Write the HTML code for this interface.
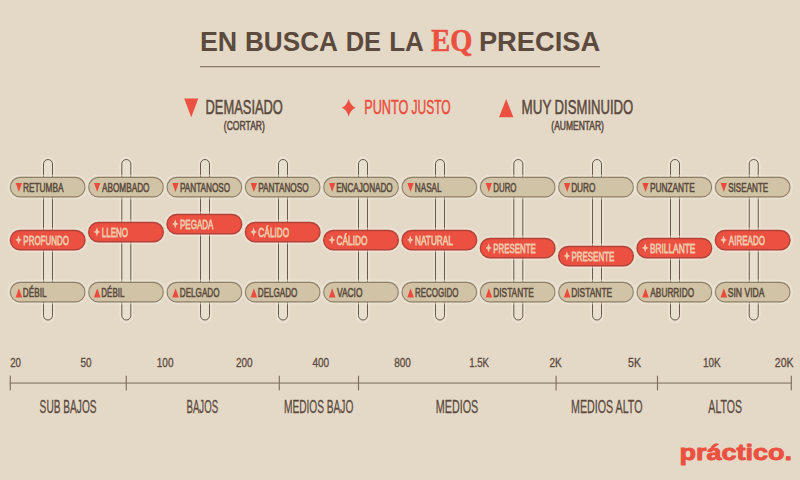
<!DOCTYPE html><html><head><meta charset="utf-8"><style>html,body{margin:0;padding:0;background:#E4D9C7;width:800px;height:480px;overflow:hidden}svg{display:block}</style></head><body>
<svg width="800" height="480" viewBox="0 0 800 480">
<rect width="800" height="480" fill="#E4D9C7"/>
<text x="199.96" y="50.80" font-family="Liberation Sans" font-weight="bold" font-size="28.00" fill="#5B4A3D" textLength="37.25" lengthAdjust="spacingAndGlyphs">EN</text>
<text x="244.98" y="50.80" font-family="Liberation Sans" font-weight="bold" font-size="28.00" fill="#5B4A3D" textLength="92.96" lengthAdjust="spacingAndGlyphs">BUSCA</text>
<text x="345.70" y="50.80" font-family="Liberation Sans" font-weight="bold" font-size="28.00" fill="#5B4A3D" textLength="35.42" lengthAdjust="spacingAndGlyphs">DE</text>
<text x="389.17" y="50.80" font-family="Liberation Sans" font-weight="bold" font-size="28.00" fill="#5B4A3D" textLength="34.68" lengthAdjust="spacingAndGlyphs">LA</text>
<text x="478.90" y="50.80" font-family="Liberation Sans" font-weight="bold" font-size="28.00" fill="#5B4A3D" textLength="121.42" lengthAdjust="spacingAndGlyphs">PRECISA</text>
<text x="431.35" y="50.90" font-family="Liberation Serif" font-weight="bold" font-size="30.50" fill="#EB5040" textLength="41.07" lengthAdjust="spacingAndGlyphs" stroke="#EB5040" stroke-width="0.6">EQ</text>
<rect x="200" y="66" width="400" height="1.3" fill="#8E806C"/>
<text x="205.55" y="114.00" font-family="Liberation Sans" font-weight="normal" font-size="20.90" fill="#5B4A3D" textLength="77.35" lengthAdjust="spacingAndGlyphs" stroke="#5B4A3D" stroke-width="0.55">DEMASIADO</text>
<text x="223.85" y="129.60" font-family="Liberation Sans" font-weight="normal" font-size="12.00" fill="#5B4A3D" textLength="41.02" lengthAdjust="spacingAndGlyphs" stroke="#5B4A3D" stroke-width="0.55">(CORTAR)</text>
<text x="364.17" y="113.90" font-family="Liberation Sans" font-weight="normal" font-size="20.70" fill="#EB5040" textLength="44.35" lengthAdjust="spacingAndGlyphs" stroke="#EB5040" stroke-width="0.55">PUNTO</text>
<text x="411.54" y="113.90" font-family="Liberation Sans" font-weight="normal" font-size="20.70" fill="#EB5040" textLength="39.16" lengthAdjust="spacingAndGlyphs" stroke="#EB5040" stroke-width="0.55">JUSTO</text>
<text x="521.54" y="114.00" font-family="Liberation Sans" font-weight="normal" font-size="20.90" fill="#5B4A3D" textLength="29.89" lengthAdjust="spacingAndGlyphs" stroke="#5B4A3D" stroke-width="0.55">MUY</text>
<text x="554.59" y="114.00" font-family="Liberation Sans" font-weight="normal" font-size="20.90" fill="#5B4A3D" textLength="78.73" lengthAdjust="spacingAndGlyphs" stroke="#5B4A3D" stroke-width="0.55">DISMINUIDO</text>
<text x="551.35" y="129.60" font-family="Liberation Sans" font-weight="normal" font-size="12.00" fill="#5B4A3D" textLength="52.58" lengthAdjust="spacingAndGlyphs" stroke="#5B4A3D" stroke-width="0.55">(AUMENTAR)</text>
<path d="M184.2 98.6 L198.3 98.6 L191.25 117.3 Z" fill="#EB5040"/>
<path d="M499 117.3 L513.4 117.3 L506.2 99 Z" fill="#EB5040"/>
<path d="M348.70 98.75 Q350.38 105.59 355.70 107.75 Q350.38 109.91 348.70 116.75 Q347.02 109.91 341.70 107.75 Q347.02 105.59 348.70 98.75 Z" fill="#EB5040"/>
<rect x="42.00" y="157.5" width="12" height="165" rx="6" fill="none" stroke="#EFE8DB" stroke-width="1.5" opacity="0.7"/>
<rect x="43.50" y="159.5" width="9" height="160.5" rx="4.5" fill="#E8DFCF" stroke="#6A5A4B" stroke-width="1"/>
<rect x="8.20" y="175.50" width="79" height="23" rx="11.5" fill="none" stroke="#EFE8DB" stroke-width="1.5" opacity="0.55"/>
<rect x="10.40" y="177.40" width="74.6" height="19.5" rx="9.75" fill="#D1C4A6" stroke="#8F7F69" stroke-width="1.1"/>
<path d="M15.70 183.10 L22.00 183.10 L18.85 192.10 Z" fill="#EC4A3C"/>
<text x="22.88" y="191.90" font-family="Liberation Sans" font-weight="normal" font-size="13.60" fill="#5B4A3D" textLength="40.74" lengthAdjust="spacingAndGlyphs" stroke="#5B4A3D" stroke-width="0.6">RETUMBA</text>
<rect x="8.20" y="228.50" width="79" height="23" rx="11.5" fill="none" stroke="#EFE8DB" stroke-width="1.5" opacity="0.55"/>
<rect x="10.40" y="230.50" width="74.6" height="19.3" rx="9.65" fill="#EB5040" stroke="#B5423A" stroke-width="1.4"/>
<path d="M18.60 235.30 L19.80 238.70 L22.00 239.90 L19.80 241.10 L18.60 244.50 L17.40 241.10 L15.20 239.90 L17.40 238.70 Z" fill="#F0C7A9"/>
<text x="23.33" y="244.90" font-family="Liberation Sans" font-weight="normal" font-size="13.60" fill="#F0C7A9" textLength="45.66" lengthAdjust="spacingAndGlyphs" stroke="#F0C7A9" stroke-width="0.8">PROFUNDO</text>
<rect x="8.20" y="280.50" width="79" height="23" rx="11.5" fill="none" stroke="#EFE8DB" stroke-width="1.5" opacity="0.55"/>
<rect x="10.40" y="282.40" width="74.6" height="19.5" rx="9.75" fill="#D1C4A6" stroke="#8F7F69" stroke-width="1.1"/>
<path d="M15.60 297.40 L22.20 297.40 L18.90 288.20 Z" fill="#EC4A3C"/>
<text x="22.84" y="297.20" font-family="Liberation Sans" font-weight="normal" font-size="13.60" fill="#5B4A3D" textLength="23.84" lengthAdjust="spacingAndGlyphs" stroke="#5B4A3D" stroke-width="0.6">DÉBIL</text>
<rect x="120.30" y="157.5" width="12" height="165" rx="6" fill="none" stroke="#EFE8DB" stroke-width="1.5" opacity="0.7"/>
<rect x="121.80" y="159.5" width="9" height="160.5" rx="4.5" fill="#E8DFCF" stroke="#6A5A4B" stroke-width="1"/>
<rect x="86.53" y="175.50" width="79" height="23" rx="11.5" fill="none" stroke="#EFE8DB" stroke-width="1.5" opacity="0.55"/>
<rect x="88.73" y="177.40" width="74.6" height="19.5" rx="9.75" fill="#D1C4A6" stroke="#8F7F69" stroke-width="1.1"/>
<path d="M94.03 183.10 L100.33 183.10 L97.18 192.10 Z" fill="#EC4A3C"/>
<text x="101.94" y="191.90" font-family="Liberation Sans" font-weight="normal" font-size="13.60" fill="#5B4A3D" textLength="47.58" lengthAdjust="spacingAndGlyphs" stroke="#5B4A3D" stroke-width="0.6">ABOMBADO</text>
<rect x="86.53" y="220.50" width="79" height="23" rx="11.5" fill="none" stroke="#EFE8DB" stroke-width="1.5" opacity="0.55"/>
<rect x="88.73" y="222.50" width="74.6" height="19.3" rx="9.65" fill="#EB5040" stroke="#B5423A" stroke-width="1.4"/>
<path d="M96.93 227.30 L98.13 230.70 L100.33 231.90 L98.13 233.10 L96.93 236.50 L95.73 233.10 L93.53 231.90 L95.73 230.70 Z" fill="#F0C7A9"/>
<text x="101.70" y="236.90" font-family="Liberation Sans" font-weight="normal" font-size="13.60" fill="#F0C7A9" textLength="26.34" lengthAdjust="spacingAndGlyphs" stroke="#F0C7A9" stroke-width="0.8">LLENO</text>
<rect x="86.53" y="280.50" width="79" height="23" rx="11.5" fill="none" stroke="#EFE8DB" stroke-width="1.5" opacity="0.55"/>
<rect x="88.73" y="282.40" width="74.6" height="19.5" rx="9.75" fill="#D1C4A6" stroke="#8F7F69" stroke-width="1.1"/>
<path d="M93.93 297.40 L100.53 297.40 L97.23 288.20 Z" fill="#EC4A3C"/>
<text x="101.30" y="297.20" font-family="Liberation Sans" font-weight="normal" font-size="13.60" fill="#5B4A3D" textLength="23.06" lengthAdjust="spacingAndGlyphs" stroke="#5B4A3D" stroke-width="0.6">DÉBIL</text>
<rect x="199.00" y="157.5" width="12" height="165" rx="6" fill="none" stroke="#EFE8DB" stroke-width="1.5" opacity="0.7"/>
<rect x="200.50" y="159.5" width="9" height="160.5" rx="4.5" fill="#E8DFCF" stroke="#6A5A4B" stroke-width="1"/>
<rect x="164.86" y="175.50" width="79" height="23" rx="11.5" fill="none" stroke="#EFE8DB" stroke-width="1.5" opacity="0.55"/>
<rect x="167.06" y="177.40" width="74.6" height="19.5" rx="9.75" fill="#D1C4A6" stroke="#8F7F69" stroke-width="1.1"/>
<path d="M172.36 183.10 L178.66 183.10 L175.51 192.10 Z" fill="#EC4A3C"/>
<text x="179.93" y="191.90" font-family="Liberation Sans" font-weight="normal" font-size="13.60" fill="#5B4A3D" textLength="50.30" lengthAdjust="spacingAndGlyphs" stroke="#5B4A3D" stroke-width="0.6">PANTANOSO</text>
<rect x="164.86" y="212.50" width="79" height="23" rx="11.5" fill="none" stroke="#EFE8DB" stroke-width="1.5" opacity="0.55"/>
<rect x="167.06" y="214.50" width="74.6" height="19.3" rx="9.65" fill="#EB5040" stroke="#B5423A" stroke-width="1.4"/>
<path d="M175.26 219.30 L176.46 222.70 L178.66 223.90 L176.46 225.10 L175.26 228.50 L174.06 225.10 L171.86 223.90 L174.06 222.70 Z" fill="#F0C7A9"/>
<text x="180.02" y="228.90" font-family="Liberation Sans" font-weight="normal" font-size="13.60" fill="#F0C7A9" textLength="33.30" lengthAdjust="spacingAndGlyphs" stroke="#F0C7A9" stroke-width="0.8">PEGADA</text>
<rect x="164.86" y="280.50" width="79" height="23" rx="11.5" fill="none" stroke="#EFE8DB" stroke-width="1.5" opacity="0.55"/>
<rect x="167.06" y="282.40" width="74.6" height="19.5" rx="9.75" fill="#D1C4A6" stroke="#8F7F69" stroke-width="1.1"/>
<path d="M172.26 297.40 L178.86 297.40 L175.56 288.20 Z" fill="#EC4A3C"/>
<text x="179.79" y="297.20" font-family="Liberation Sans" font-weight="normal" font-size="13.60" fill="#5B4A3D" textLength="39.74" lengthAdjust="spacingAndGlyphs" stroke="#5B4A3D" stroke-width="0.6">DELGADO</text>
<rect x="277.00" y="157.5" width="12" height="165" rx="6" fill="none" stroke="#EFE8DB" stroke-width="1.5" opacity="0.7"/>
<rect x="278.50" y="159.5" width="9" height="160.5" rx="4.5" fill="#E8DFCF" stroke="#6A5A4B" stroke-width="1"/>
<rect x="243.19" y="175.50" width="79" height="23" rx="11.5" fill="none" stroke="#EFE8DB" stroke-width="1.5" opacity="0.55"/>
<rect x="245.39" y="177.40" width="74.6" height="19.5" rx="9.75" fill="#D1C4A6" stroke="#8F7F69" stroke-width="1.1"/>
<path d="M250.69 183.10 L256.99 183.10 L253.84 192.10 Z" fill="#EC4A3C"/>
<text x="258.20" y="191.90" font-family="Liberation Sans" font-weight="normal" font-size="13.60" fill="#5B4A3D" textLength="50.41" lengthAdjust="spacingAndGlyphs" stroke="#5B4A3D" stroke-width="0.6">PANTANOSO</text>
<rect x="243.19" y="220.50" width="79" height="23" rx="11.5" fill="none" stroke="#EFE8DB" stroke-width="1.5" opacity="0.55"/>
<rect x="245.39" y="222.50" width="74.6" height="19.3" rx="9.65" fill="#EB5040" stroke="#B5423A" stroke-width="1.4"/>
<path d="M253.59 227.30 L254.79 230.70 L256.99 231.90 L254.79 233.10 L253.59 236.50 L252.39 233.10 L250.19 231.90 L252.39 230.70 Z" fill="#F0C7A9"/>
<text x="258.37" y="236.90" font-family="Liberation Sans" font-weight="normal" font-size="13.60" fill="#F0C7A9" textLength="30.87" lengthAdjust="spacingAndGlyphs" stroke="#F0C7A9" stroke-width="0.8">CÁLIDO</text>
<rect x="243.19" y="280.50" width="79" height="23" rx="11.5" fill="none" stroke="#EFE8DB" stroke-width="1.5" opacity="0.55"/>
<rect x="245.39" y="282.40" width="74.6" height="19.5" rx="9.75" fill="#D1C4A6" stroke="#8F7F69" stroke-width="1.1"/>
<path d="M250.59 297.40 L257.19 297.40 L253.89 288.20 Z" fill="#EC4A3C"/>
<text x="257.79" y="297.20" font-family="Liberation Sans" font-weight="normal" font-size="13.60" fill="#5B4A3D" textLength="39.62" lengthAdjust="spacingAndGlyphs" stroke="#5B4A3D" stroke-width="0.6">DELGADO</text>
<rect x="357.00" y="157.5" width="12" height="165" rx="6" fill="none" stroke="#EFE8DB" stroke-width="1.5" opacity="0.7"/>
<rect x="358.50" y="159.5" width="9" height="160.5" rx="4.5" fill="#E8DFCF" stroke="#6A5A4B" stroke-width="1"/>
<rect x="321.52" y="175.50" width="79" height="23" rx="11.5" fill="none" stroke="#EFE8DB" stroke-width="1.5" opacity="0.55"/>
<rect x="323.72" y="177.40" width="74.6" height="19.5" rx="9.75" fill="#D1C4A6" stroke="#8F7F69" stroke-width="1.1"/>
<path d="M329.02 183.10 L335.32 183.10 L332.17 192.10 Z" fill="#EC4A3C"/>
<text x="336.21" y="191.90" font-family="Liberation Sans" font-weight="normal" font-size="13.60" fill="#5B4A3D" textLength="56.41" lengthAdjust="spacingAndGlyphs" stroke="#5B4A3D" stroke-width="0.6">ENCAJONADO</text>
<rect x="321.52" y="228.50" width="79" height="23" rx="11.5" fill="none" stroke="#EFE8DB" stroke-width="1.5" opacity="0.55"/>
<rect x="323.72" y="230.50" width="74.6" height="19.3" rx="9.65" fill="#EB5040" stroke="#B5423A" stroke-width="1.4"/>
<path d="M331.92 235.30 L333.12 238.70 L335.32 239.90 L333.12 241.10 L331.92 244.50 L330.72 241.10 L328.52 239.90 L330.72 238.70 Z" fill="#F0C7A9"/>
<text x="336.50" y="244.90" font-family="Liberation Sans" font-weight="normal" font-size="13.60" fill="#F0C7A9" textLength="31.03" lengthAdjust="spacingAndGlyphs" stroke="#F0C7A9" stroke-width="0.8">CÁLIDO</text>
<rect x="321.52" y="280.50" width="79" height="23" rx="11.5" fill="none" stroke="#EFE8DB" stroke-width="1.5" opacity="0.55"/>
<rect x="323.72" y="282.40" width="74.6" height="19.5" rx="9.75" fill="#D1C4A6" stroke="#8F7F69" stroke-width="1.1"/>
<path d="M328.92 297.40 L335.52 297.40 L332.22 288.20 Z" fill="#EC4A3C"/>
<text x="336.92" y="297.20" font-family="Liberation Sans" font-weight="normal" font-size="13.60" fill="#5B4A3D" textLength="25.58" lengthAdjust="spacingAndGlyphs" stroke="#5B4A3D" stroke-width="0.6">VACIO</text>
<rect x="434.00" y="157.5" width="12" height="165" rx="6" fill="none" stroke="#EFE8DB" stroke-width="1.5" opacity="0.7"/>
<rect x="435.50" y="159.5" width="9" height="160.5" rx="4.5" fill="#E8DFCF" stroke="#6A5A4B" stroke-width="1"/>
<rect x="399.85" y="175.50" width="79" height="23" rx="11.5" fill="none" stroke="#EFE8DB" stroke-width="1.5" opacity="0.55"/>
<rect x="402.05" y="177.40" width="74.6" height="19.5" rx="9.75" fill="#D1C4A6" stroke="#8F7F69" stroke-width="1.1"/>
<path d="M407.35 183.10 L413.65 183.10 L410.50 192.10 Z" fill="#EC4A3C"/>
<text x="414.82" y="191.90" font-family="Liberation Sans" font-weight="normal" font-size="13.60" fill="#5B4A3D" textLength="26.72" lengthAdjust="spacingAndGlyphs" stroke="#5B4A3D" stroke-width="0.6">NASAL</text>
<rect x="399.85" y="228.50" width="79" height="23" rx="11.5" fill="none" stroke="#EFE8DB" stroke-width="1.5" opacity="0.55"/>
<rect x="402.05" y="230.50" width="74.6" height="19.3" rx="9.65" fill="#EB5040" stroke="#B5423A" stroke-width="1.4"/>
<path d="M410.25 235.30 L411.45 238.70 L413.65 239.90 L411.45 241.10 L410.25 244.50 L409.05 241.10 L406.85 239.90 L409.05 238.70 Z" fill="#F0C7A9"/>
<text x="415.02" y="244.90" font-family="Liberation Sans" font-weight="normal" font-size="13.60" fill="#F0C7A9" textLength="37.86" lengthAdjust="spacingAndGlyphs" stroke="#F0C7A9" stroke-width="0.8">NATURAL</text>
<rect x="399.85" y="280.50" width="79" height="23" rx="11.5" fill="none" stroke="#EFE8DB" stroke-width="1.5" opacity="0.55"/>
<rect x="402.05" y="282.40" width="74.6" height="19.5" rx="9.75" fill="#D1C4A6" stroke="#8F7F69" stroke-width="1.1"/>
<path d="M407.25 297.40 L413.85 297.40 L410.55 288.20 Z" fill="#EC4A3C"/>
<text x="414.94" y="297.20" font-family="Liberation Sans" font-weight="normal" font-size="13.60" fill="#5B4A3D" textLength="43.54" lengthAdjust="spacingAndGlyphs" stroke="#5B4A3D" stroke-width="0.6">RECOGIDO</text>
<rect x="512.30" y="157.5" width="12" height="165" rx="6" fill="none" stroke="#EFE8DB" stroke-width="1.5" opacity="0.7"/>
<rect x="513.80" y="159.5" width="9" height="160.5" rx="4.5" fill="#E8DFCF" stroke="#6A5A4B" stroke-width="1"/>
<rect x="478.18" y="175.50" width="79" height="23" rx="11.5" fill="none" stroke="#EFE8DB" stroke-width="1.5" opacity="0.55"/>
<rect x="480.38" y="177.40" width="74.6" height="19.5" rx="9.75" fill="#D1C4A6" stroke="#8F7F69" stroke-width="1.1"/>
<path d="M485.68 183.10 L491.98 183.10 L488.83 192.10 Z" fill="#EC4A3C"/>
<text x="493.20" y="191.90" font-family="Liberation Sans" font-weight="normal" font-size="13.60" fill="#5B4A3D" textLength="23.33" lengthAdjust="spacingAndGlyphs" stroke="#5B4A3D" stroke-width="0.6">DURO</text>
<rect x="478.18" y="236.50" width="79" height="23" rx="11.5" fill="none" stroke="#EFE8DB" stroke-width="1.5" opacity="0.55"/>
<rect x="480.38" y="238.50" width="74.6" height="19.3" rx="9.65" fill="#EB5040" stroke="#B5423A" stroke-width="1.4"/>
<path d="M488.58 243.30 L489.78 246.70 L491.98 247.90 L489.78 249.10 L488.58 252.50 L487.38 249.10 L485.18 247.90 L487.38 246.70 Z" fill="#F0C7A9"/>
<text x="493.35" y="252.90" font-family="Liberation Sans" font-weight="normal" font-size="13.60" fill="#F0C7A9" textLength="42.47" lengthAdjust="spacingAndGlyphs" stroke="#F0C7A9" stroke-width="0.8">PRESENTE</text>
<rect x="478.18" y="280.50" width="79" height="23" rx="11.5" fill="none" stroke="#EFE8DB" stroke-width="1.5" opacity="0.55"/>
<rect x="480.38" y="282.40" width="74.6" height="19.5" rx="9.75" fill="#D1C4A6" stroke="#8F7F69" stroke-width="1.1"/>
<path d="M485.58 297.40 L492.18 297.40 L488.88 288.20 Z" fill="#EC4A3C"/>
<text x="493.29" y="297.20" font-family="Liberation Sans" font-weight="normal" font-size="13.60" fill="#5B4A3D" textLength="40.47" lengthAdjust="spacingAndGlyphs" stroke="#5B4A3D" stroke-width="0.6">DISTANTE</text>
<rect x="591.00" y="157.5" width="12" height="165" rx="6" fill="none" stroke="#EFE8DB" stroke-width="1.5" opacity="0.7"/>
<rect x="592.50" y="159.5" width="9" height="160.5" rx="4.5" fill="#E8DFCF" stroke="#6A5A4B" stroke-width="1"/>
<rect x="556.51" y="175.50" width="79" height="23" rx="11.5" fill="none" stroke="#EFE8DB" stroke-width="1.5" opacity="0.55"/>
<rect x="558.71" y="177.40" width="74.6" height="19.5" rx="9.75" fill="#D1C4A6" stroke="#8F7F69" stroke-width="1.1"/>
<path d="M564.01 183.10 L570.31 183.10 L567.16 192.10 Z" fill="#EC4A3C"/>
<text x="571.14" y="191.90" font-family="Liberation Sans" font-weight="normal" font-size="13.60" fill="#5B4A3D" textLength="24.40" lengthAdjust="spacingAndGlyphs" stroke="#5B4A3D" stroke-width="0.6">DURO</text>
<rect x="556.51" y="244.50" width="79" height="23" rx="11.5" fill="none" stroke="#EFE8DB" stroke-width="1.5" opacity="0.55"/>
<rect x="558.71" y="246.50" width="74.6" height="19.3" rx="9.65" fill="#EB5040" stroke="#B5423A" stroke-width="1.4"/>
<path d="M566.91 251.30 L568.11 254.70 L570.31 255.90 L568.11 257.10 L566.91 260.50 L565.71 257.10 L563.51 255.90 L565.71 254.70 Z" fill="#F0C7A9"/>
<text x="571.41" y="260.90" font-family="Liberation Sans" font-weight="normal" font-size="13.60" fill="#F0C7A9" textLength="42.90" lengthAdjust="spacingAndGlyphs" stroke="#F0C7A9" stroke-width="0.8">PRESENTE</text>
<rect x="556.51" y="280.50" width="79" height="23" rx="11.5" fill="none" stroke="#EFE8DB" stroke-width="1.5" opacity="0.55"/>
<rect x="558.71" y="282.40" width="74.6" height="19.5" rx="9.75" fill="#D1C4A6" stroke="#8F7F69" stroke-width="1.1"/>
<path d="M563.91 297.40 L570.51 297.40 L567.21 288.20 Z" fill="#EC4A3C"/>
<text x="571.19" y="297.20" font-family="Liberation Sans" font-weight="normal" font-size="13.60" fill="#5B4A3D" textLength="40.97" lengthAdjust="spacingAndGlyphs" stroke="#5B4A3D" stroke-width="0.6">DISTANTE</text>
<rect x="669.00" y="157.5" width="12" height="165" rx="6" fill="none" stroke="#EFE8DB" stroke-width="1.5" opacity="0.7"/>
<rect x="670.50" y="159.5" width="9" height="160.5" rx="4.5" fill="#E8DFCF" stroke="#6A5A4B" stroke-width="1"/>
<rect x="634.84" y="175.50" width="79" height="23" rx="11.5" fill="none" stroke="#EFE8DB" stroke-width="1.5" opacity="0.55"/>
<rect x="637.04" y="177.40" width="74.6" height="19.5" rx="9.75" fill="#D1C4A6" stroke="#8F7F69" stroke-width="1.1"/>
<path d="M642.34 183.10 L648.64 183.10 L645.49 192.10 Z" fill="#EC4A3C"/>
<text x="649.91" y="191.90" font-family="Liberation Sans" font-weight="normal" font-size="13.60" fill="#5B4A3D" textLength="44.82" lengthAdjust="spacingAndGlyphs" stroke="#5B4A3D" stroke-width="0.6">PUNZANTE</text>
<rect x="634.84" y="236.50" width="79" height="23" rx="11.5" fill="none" stroke="#EFE8DB" stroke-width="1.5" opacity="0.55"/>
<rect x="637.04" y="238.50" width="74.6" height="19.3" rx="9.65" fill="#EB5040" stroke="#B5423A" stroke-width="1.4"/>
<path d="M645.24 243.30 L646.44 246.70 L648.64 247.90 L646.44 249.10 L645.24 252.50 L644.04 249.10 L641.84 247.90 L644.04 246.70 Z" fill="#F0C7A9"/>
<text x="649.90" y="252.90" font-family="Liberation Sans" font-weight="normal" font-size="13.60" fill="#F0C7A9" textLength="45.52" lengthAdjust="spacingAndGlyphs" stroke="#F0C7A9" stroke-width="0.8">BRILLANTE</text>
<rect x="634.84" y="280.50" width="79" height="23" rx="11.5" fill="none" stroke="#EFE8DB" stroke-width="1.5" opacity="0.55"/>
<rect x="637.04" y="282.40" width="74.6" height="19.5" rx="9.75" fill="#D1C4A6" stroke="#8F7F69" stroke-width="1.1"/>
<path d="M642.24 297.40 L648.84 297.40 L645.54 288.20 Z" fill="#EC4A3C"/>
<text x="650.35" y="297.20" font-family="Liberation Sans" font-weight="normal" font-size="13.60" fill="#5B4A3D" textLength="43.74" lengthAdjust="spacingAndGlyphs" stroke="#5B4A3D" stroke-width="0.6">ABURRIDO</text>
<rect x="747.75" y="157.5" width="12" height="165" rx="6" fill="none" stroke="#EFE8DB" stroke-width="1.5" opacity="0.7"/>
<rect x="749.25" y="159.5" width="9" height="160.5" rx="4.5" fill="#E8DFCF" stroke="#6A5A4B" stroke-width="1"/>
<rect x="713.17" y="175.50" width="79" height="23" rx="11.5" fill="none" stroke="#EFE8DB" stroke-width="1.5" opacity="0.55"/>
<rect x="715.37" y="177.40" width="74.6" height="19.5" rx="9.75" fill="#D1C4A6" stroke="#8F7F69" stroke-width="1.1"/>
<path d="M720.67 183.10 L726.97 183.10 L723.82 192.10 Z" fill="#EC4A3C"/>
<text x="728.22" y="191.90" font-family="Liberation Sans" font-weight="normal" font-size="13.60" fill="#5B4A3D" textLength="40.05" lengthAdjust="spacingAndGlyphs" stroke="#5B4A3D" stroke-width="0.6">SISEANTE</text>
<rect x="713.17" y="228.50" width="79" height="23" rx="11.5" fill="none" stroke="#EFE8DB" stroke-width="1.5" opacity="0.55"/>
<rect x="715.37" y="230.50" width="74.6" height="19.3" rx="9.65" fill="#EB5040" stroke="#B5423A" stroke-width="1.4"/>
<path d="M723.57 235.30 L724.77 238.70 L726.97 239.90 L724.77 241.10 L723.57 244.50 L722.37 241.10 L720.17 239.90 L722.37 238.70 Z" fill="#F0C7A9"/>
<text x="728.84" y="244.90" font-family="Liberation Sans" font-weight="normal" font-size="13.60" fill="#F0C7A9" textLength="36.07" lengthAdjust="spacingAndGlyphs" stroke="#F0C7A9" stroke-width="0.8">AIREADO</text>
<rect x="713.17" y="280.50" width="79" height="23" rx="11.5" fill="none" stroke="#EFE8DB" stroke-width="1.5" opacity="0.55"/>
<rect x="715.37" y="282.40" width="74.6" height="19.5" rx="9.75" fill="#D1C4A6" stroke="#8F7F69" stroke-width="1.1"/>
<path d="M720.57 297.40 L727.17 297.40 L723.87 288.20 Z" fill="#EC4A3C"/>
<text x="727.77" y="297.20" font-family="Liberation Sans" font-weight="normal" font-size="13.60" fill="#5B4A3D" textLength="36.70" lengthAdjust="spacingAndGlyphs" stroke="#5B4A3D" stroke-width="0.6">SIN VIDA</text>
<rect x="9.7" y="382.5" width="782.2" height="1.1" fill="#807360"/>
<rect x="9.70" y="375.7" width="1.2" height="14.6" fill="#807360"/>
<rect x="125.70" y="375.7" width="1.2" height="14.6" fill="#807360"/>
<rect x="278.70" y="375.7" width="1.2" height="14.6" fill="#807360"/>
<rect x="357.90" y="375.7" width="1.2" height="14.6" fill="#807360"/>
<rect x="555.50" y="375.7" width="1.2" height="14.6" fill="#807360"/>
<rect x="656.90" y="375.7" width="1.2" height="14.6" fill="#807360"/>
<rect x="790.70" y="375.7" width="1.2" height="14.6" fill="#807360"/>
<text x="10.16" y="366.90" font-family="Liberation Sans" font-weight="normal" font-size="12.10" fill="#5B4A3D" textLength="10.78" lengthAdjust="spacingAndGlyphs" stroke="#5B4A3D" stroke-width="0.3">20</text>
<text x="80.52" y="366.90" font-family="Liberation Sans" font-weight="normal" font-size="12.10" fill="#5B4A3D" textLength="11.09" lengthAdjust="spacingAndGlyphs" stroke="#5B4A3D" stroke-width="0.3">50</text>
<text x="156.79" y="366.90" font-family="Liberation Sans" font-weight="normal" font-size="12.10" fill="#5B4A3D" textLength="16.67" lengthAdjust="spacingAndGlyphs" stroke="#5B4A3D" stroke-width="0.3">100</text>
<text x="235.89" y="366.90" font-family="Liberation Sans" font-weight="normal" font-size="12.10" fill="#5B4A3D" textLength="16.68" lengthAdjust="spacingAndGlyphs" stroke="#5B4A3D" stroke-width="0.3">200</text>
<text x="312.46" y="366.90" font-family="Liberation Sans" font-weight="normal" font-size="12.10" fill="#5B4A3D" textLength="16.71" lengthAdjust="spacingAndGlyphs" stroke="#5B4A3D" stroke-width="0.3">400</text>
<text x="394.20" y="366.90" font-family="Liberation Sans" font-weight="normal" font-size="12.10" fill="#5B4A3D" textLength="16.67" lengthAdjust="spacingAndGlyphs" stroke="#5B4A3D" stroke-width="0.3">800</text>
<text x="469.19" y="366.90" font-family="Liberation Sans" font-weight="normal" font-size="12.10" fill="#5B4A3D" textLength="19.86" lengthAdjust="spacingAndGlyphs" stroke="#5B4A3D" stroke-width="0.3">1.5K</text>
<text x="549.42" y="366.90" font-family="Liberation Sans" font-weight="normal" font-size="12.10" fill="#5B4A3D" textLength="12.24" lengthAdjust="spacingAndGlyphs" stroke="#5B4A3D" stroke-width="0.3">2K</text>
<text x="628.05" y="366.90" font-family="Liberation Sans" font-weight="normal" font-size="12.10" fill="#5B4A3D" textLength="12.98" lengthAdjust="spacingAndGlyphs" stroke="#5B4A3D" stroke-width="0.3">5K</text>
<text x="702.91" y="366.90" font-family="Liberation Sans" font-weight="normal" font-size="12.10" fill="#5B4A3D" textLength="17.71" lengthAdjust="spacingAndGlyphs" stroke="#5B4A3D" stroke-width="0.3">10K</text>
<text x="774.80" y="366.90" font-family="Liberation Sans" font-weight="normal" font-size="12.10" fill="#5B4A3D" textLength="18.71" lengthAdjust="spacingAndGlyphs" stroke="#5B4A3D" stroke-width="0.3">20K</text>
<text x="39.62" y="413.30" font-family="Liberation Sans" font-weight="normal" font-size="18.30" fill="#5B4A3D" textLength="56.95" lengthAdjust="spacingAndGlyphs" stroke="#5B4A3D" stroke-width="0.3">SUB BAJOS</text>
<text x="186.46" y="413.30" font-family="Liberation Sans" font-weight="normal" font-size="18.30" fill="#5B4A3D" textLength="31.61" lengthAdjust="spacingAndGlyphs" stroke="#5B4A3D" stroke-width="0.3">BAJOS</text>
<text x="283.94" y="413.30" font-family="Liberation Sans" font-weight="normal" font-size="18.30" fill="#5B4A3D" textLength="69.42" lengthAdjust="spacingAndGlyphs" stroke="#5B4A3D" stroke-width="0.3">MEDIOS BAJO</text>
<text x="435.76" y="413.30" font-family="Liberation Sans" font-weight="normal" font-size="18.30" fill="#5B4A3D" textLength="42.51" lengthAdjust="spacingAndGlyphs" stroke="#5B4A3D" stroke-width="0.3">MEDIOS</text>
<text x="571.00" y="413.30" font-family="Liberation Sans" font-weight="normal" font-size="18.30" fill="#5B4A3D" textLength="71.49" lengthAdjust="spacingAndGlyphs" stroke="#5B4A3D" stroke-width="0.3">MEDIOS ALTO</text>
<text x="708.35" y="413.30" font-family="Liberation Sans" font-weight="normal" font-size="18.30" fill="#5B4A3D" textLength="33.60" lengthAdjust="spacingAndGlyphs" stroke="#5B4A3D" stroke-width="0.3">ALTOS</text>
<text x="679.40" y="459.60" font-family="Liberation Sans" font-weight="bold" font-size="22.70" fill="#EB5040" textLength="112.71" lengthAdjust="spacingAndGlyphs" stroke="#EB5040" stroke-width="0.9" stroke-linejoin="round">práctico.</text>
</svg></body></html>
